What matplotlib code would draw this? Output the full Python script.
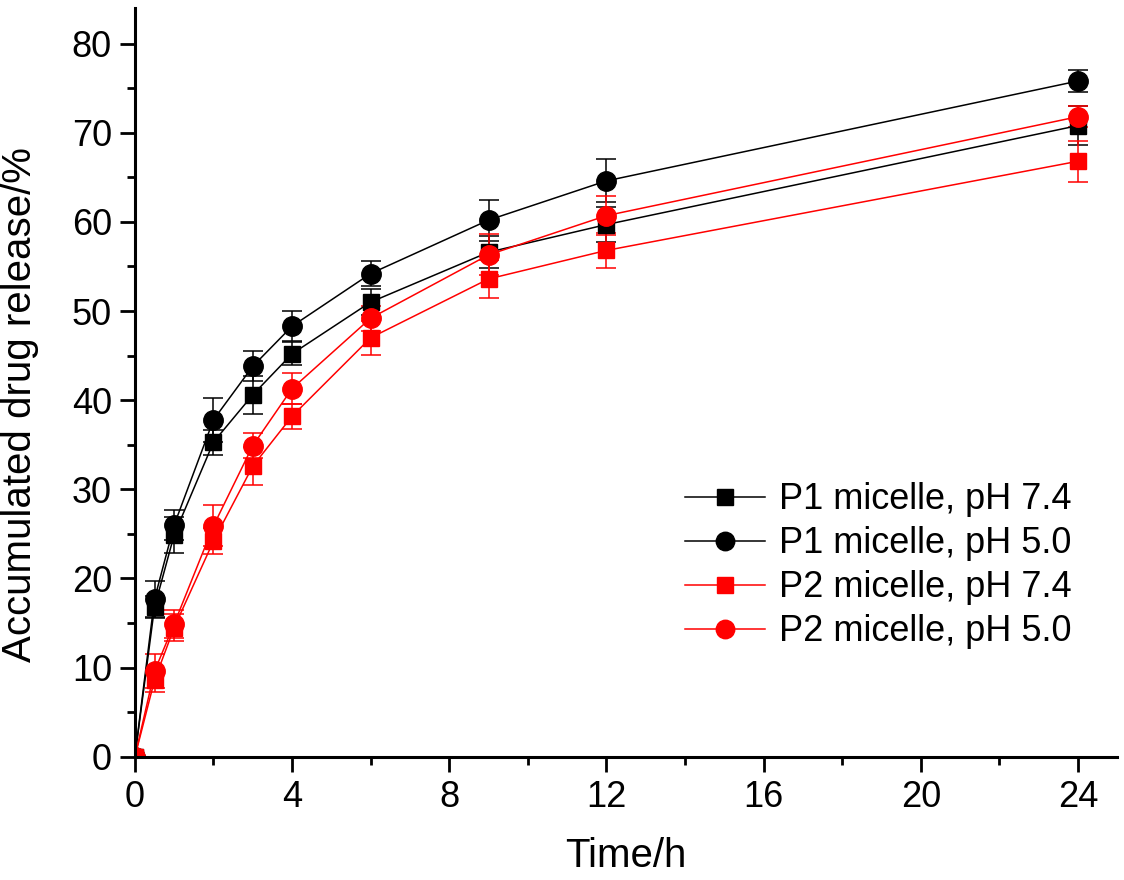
import numpy as np
import matplotlib.pyplot as plt

plt.rcParams['font.family'] = ['Liberation Sans', 'DejaVu Sans']

time_h = [0, 0.5, 1, 2, 3, 4, 6, 9, 12, 24]

p1_ph74 = [0, 16.8, 24.9, 35.3, 40.6, 45.2, 51.0, 56.6, 59.7, 70.8]
p1_ph74_err = [0, 1.2, 2.0, 1.4, 2.1, 1.3, 1.5, 1.8, 2.0, 2.2]
p1_ph50 = [0, 17.7, 26.0, 37.8, 43.8, 48.3, 54.2, 60.2, 64.6, 75.8]
p1_ph50_err = [0, 2.0, 1.7, 2.5, 1.7, 1.7, 1.4, 2.3, 2.4, 1.2]
p2_ph74 = [0, 8.6, 14.5, 24.2, 32.6, 38.2, 47.0, 53.6, 56.8, 66.8]
p2_ph74_err = [0, 1.3, 1.5, 1.5, 2.1, 1.4, 1.9, 2.1, 2.0, 2.3]
p2_ph50 = [0, 9.6, 14.9, 25.9, 34.9, 41.3, 49.2, 56.3, 60.7, 71.8]
p2_ph50_err = [0, 1.9, 1.6, 2.3, 1.4, 1.7, 1.4, 2.3, 2.2, 1.2]

labels = ['P1 micelle, pH 7.4', 'P1 micelle, pH 5.0',
          'P2 micelle, pH 7.4', 'P2 micelle, pH 5.0']
series = [(p1_ph74, p1_ph74_err, 's', 'k'),
          (p1_ph50, p1_ph50_err, 'o', 'k'),
          (p2_ph74, p2_ph74_err, 's', 'r'),
          (p2_ph50, p2_ph50_err, 'o', 'r')]

fig = plt.figure(figsize=(11.24, 8.8), dpi=100)
ax = fig.add_axes([0.120, 0.140, 0.874, 0.851])

handles = []
for (vals, err, mk, col), lab in zip(series, labels):
    cont = ax.errorbar(time_h, vals, yerr=err, marker=mk, color=col, label=lab,
                       markersize=14 if mk == 'o' else 12, linewidth=1.1,
                       elinewidth=1.1, capsize=7, capthick=1.1)
    handles.append(cont[0])

ax.set_xlim(0, 25)
ax.set_ylim(0, 84)
ax.set_xticks([0, 4, 8, 12, 16, 20, 24])
ax.set_xticks([2, 6, 10, 14, 18, 22], minor=True)
ax.set_yticks(np.arange(0, 81, 10))
ax.set_yticks(np.arange(5, 81, 10), minor=True)

for s in ['top', 'right']:
    ax.spines[s].set_visible(False)
for s in ['left', 'bottom']:
    ax.spines[s].set_linewidth(2.2)
ax.tick_params(which='major', direction='out', length=10.5, width=2, labelsize=26, pad=6)
ax.tick_params(which='minor', direction='out', length=5.5, width=2)

ax.set_xlabel('Time/h', fontsize=29, labelpad=16)
ax.set_ylabel('Accumulated drug release/%', fontsize=29)
ax.yaxis.set_label_coords(-0.098, 0.47)

ax.legend(handles, labels, loc='lower right', bbox_to_anchor=(0.987, 0.10),
          frameon=False, fontsize=26, handlelength=2.2, labelspacing=0.25,
          handletextpad=0.4, markerscale=0.95)

fig.savefig('out.png', dpi=100)
